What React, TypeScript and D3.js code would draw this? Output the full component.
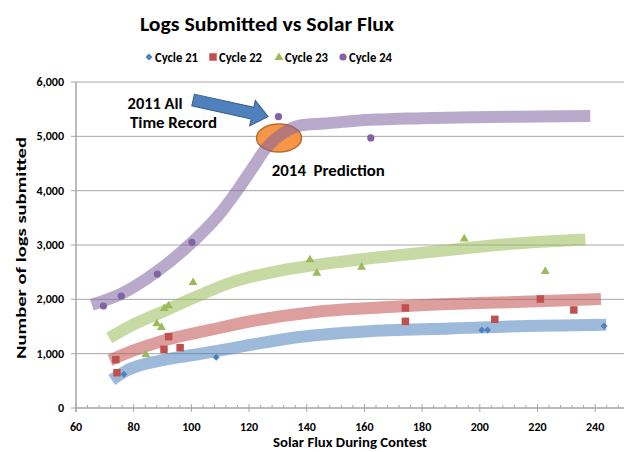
import React from 'react'
import * as d3 from 'd3'

// scatter points: [solar flux, logs]
const cycle21 = [[76.6, 620], [108.6, 933], [200.7, 1436], [202.7, 1436], [243.1, 1509]]
const cycle22 = [
  [73.8, 890], [74.2, 650], [90.5, 1080], [92.1, 1313], [96.1, 1110],
  [174.2, 1841], [174.2, 1595], [205.2, 1632], [221.0, 2006], [232.6, 1804]
]
const cycle23 = [
  [84.2, 994], [88.0, 1559], [89.6, 1491], [90.6, 1840], [92.1, 1890], [100.6, 2319],
  [141.1, 2737], [143.5, 2490], [159.0, 2601], [194.6, 3123], [222.7, 2522]
]
const cycle24 = [[69.5, 1877], [75.7, 2061], [88.2, 2466], [100.2, 3049], [130.2, 5362], [162.2, 4970]]

// hand drawn trend bands
const trend21 = [
  [72.4, 515], [77.6, 690], [89, 870], [100.7, 975], [112, 1080], [124, 1195],
  [138, 1310], [160, 1410], [190, 1465], [206, 1493], [243.8, 1530]
]
const trend22 = [
  [71.8, 880], [80, 1060], [89, 1221], [106.5, 1436], [122, 1610], [143.5, 1773],
  [166.6, 1853], [189.7, 1914], [206, 1940], [242, 2006]
]
const trend23 = [
  [71.5, 1290], [80, 1540], [90, 1770], [100, 2010], [115, 2330], [130, 2520],
  [143, 2630], [167, 2785], [190, 2910], [206, 3000], [236.6, 3100]
]
const trend24 = [
  [65.5, 1900], [76, 2110], [88, 2510], [100.5, 3060], [109, 3520], [116, 4010],
  [122, 4480], [126, 4790], [130, 4990], [137.7, 5200], [146, 5235], [162, 5305],
  [180, 5335], [198, 5352], [220, 5365], [238.3, 5375]
]

const seriesNames = ['Cycle 21', 'Cycle 22', 'Cycle 23', 'Cycle 24']
const seriesColors = ['#4f81bd', '#c0504d', '#9bbb59', '#8064a2']
const points = [cycle21, cycle22, cycle23, cycle24]
const trends = [trend21, trend22, trend23, trend24]
const shapes = ['diamond', 'square', 'triangle', 'circle']

const xTicks = [60, 80, 100, 120, 140, 160, 180, 200, 220, 240]
const yTicks = [0, 1000, 2000, 3000, 4000, 5000, 6000]

// annotations, in data units
const arrowFrom = [100.6, 5669]
const arrowTo = [126.6, 5362]
const prediction = [130.4, 4970]
const notes = [
  { text: '2011 All', at: [77.9, 5503], len: 55 },
  { text: 'Time Record', at: [78.7, 5148], len: 87 },
  { text: '2014  Prediction', at: [127.9, 4270], len: 113 }
]

const W = 631
const H = 452
const font = 'Calibri, Carlito, Lato, sans-serif'

const x = d3.scaleLinear().domain([60, 250]).range([76, 624])
const y = d3.scaleLinear().domain([0, 6000]).range([408, 82])

const line = d3
  .line<number[]>()
  .x(d => x(d[0]))
  .y(d => y(d[1]))
  .curve(d3.curveMonotoneX)

function Marker({ shape, cx, cy, color }: { shape: string; cx: number; cy: number; color: string }) {
  if (shape === 'circle') return <circle cx={cx} cy={cy} r={3.6} fill={color} />
  if (shape === 'square')
    return <path d={d3.symbol(d3.symbolSquare, 56)()!} transform={`translate(${cx},${cy})`} fill={color} />
  if (shape === 'diamond')
    return <path d={d3.symbol(d3.symbolSquare, 24)()!} transform={`translate(${cx},${cy}) rotate(45)`} fill={color} />
  return <path d={d3.symbol(d3.symbolTriangle, 34)()!} transform={`translate(${cx},${cy + 0.5})`} fill={color} />
}

function Arrow() {
  const x0 = x(arrowFrom[0])
  const y0 = y(arrowFrom[1])
  const x1 = x(arrowTo[0])
  const y1 = y(arrowTo[1])
  const len = Math.hypot(x1 - x0, y1 - y0)
  const ang = (Math.atan2(y1 - y0, x1 - x0) * 180) / Math.PI
  const sh = 6
  const hw = 13
  const hl = 16
  const pts = [
    [0, -sh], [len - hl, -sh], [len - hl, -hw], [len, 0],
    [len - hl, hw], [len - hl, sh], [0, sh]
  ]
  return (
    <path
      d={'M' + pts.map(p => p.join(',')).join('L') + 'Z'}
      transform={`translate(${x0},${y0}) rotate(${ang})`}
      fill="#4f81bd"
      stroke="#385d8a"
      strokeWidth={1}
    />
  )
}

export default function App() {
  const legendX = [149, 213, 279, 343]
  return (
    <svg
      width={W}
      height={H}
      style={{ position: 'absolute', left: 0, top: 0, background: '#fff' }}
      fontFamily={font}
    >
      <text x={267} y={31} textAnchor="middle" fontSize={21} fontWeight="bold" textLength={254} lengthAdjust="spacingAndGlyphs">
        Logs Submitted vs Solar Flux
      </text>

      {seriesNames.map((name, i) => (
        <g key={name}>
          <Marker shape={shapes[i]} cx={legendX[i]} cy={57} color={seriesColors[i]} />
          <text x={legendX[i] + 6} y={61.5} fontSize={13.5} fontWeight="bold" textLength={43} lengthAdjust="spacingAndGlyphs">
            {name}
          </text>
        </g>
      ))}

      {/* grid */}
      {yTicks.map(t => (
        <g key={t}>
          {t > 0 && <line x1={x(60)} x2={x(250)} y1={y(t)} y2={y(t)} stroke="#a6a6a6" strokeWidth={1} />}
          <line x1={x(60) - 5} x2={x(60)} y1={y(t)} y2={y(t)} stroke="#a6a6a6" />
          <text x={64} y={y(t) + 4} textAnchor="end" fontSize={12} fontWeight="bold">
            {d3.format(',')(t)}
          </text>
        </g>
      ))}

      {/* axes */}
      <line x1={x(60)} x2={x(60)} y1={y(6000)} y2={y(0) + 4} stroke="#a6a6a6" strokeWidth={1.5} />
      <line x1={x(60)} x2={x(250)} y1={y(0)} y2={y(0)} stroke="#a6a6a6" strokeWidth={1.5} />
      {d3.range(64, 251, 4).filter(v => (v - 60) % 20 !== 0).map(v => (
        <line key={v} x1={x(v)} x2={x(v)} y1={y(0) - 3} y2={y(0)} stroke="#a6a6a6" />
      ))}
      {xTicks.map(t => (
        <g key={t}>
          <line x1={x(t)} x2={x(t)} y1={y(0) - 4} y2={y(0) + 4} stroke="#a6a6a6" />
          <text x={x(t)} y={431} textAnchor="middle" fontSize={12} fontWeight="bold">
            {t}
          </text>
        </g>
      ))}

      <text x={350} y={447} textAnchor="middle" fontSize={14} fontWeight="bold" textLength={154} lengthAdjust="spacingAndGlyphs">
        Solar Flux During Contest
      </text>
      <text
        transform={`translate(26,248) rotate(-90)`}
        textAnchor="middle"
        fontSize={14}
        fontWeight="bold"
        textLength={222}
        lengthAdjust="spacingAndGlyphs"
      >
        Number of logs submitted
      </text>

      <ellipse
        cx={x(prediction[0])}
        cy={y(prediction[1])}
        rx={22.5}
        ry={14}
        fill="#f79646"
        stroke="#b66d31"
        strokeWidth={1.5}
      />

      {trends.map((t, i) => (
        <path
          key={i}
          d={line(t)!}
          fill="none"
          stroke={seriesColors[i]}
          strokeOpacity={0.55}
          strokeWidth={12}
          strokeLinecap="butt"
        />
      ))}

      {points.map((s, i) =>
        s.map((d, j) => (
          <Marker key={`${i}-${j}`} shape={shapes[i]} cx={x(d[0])} cy={y(d[1])} color={seriesColors[i]} />
        ))
      )}

      <Arrow />
      {notes.map(n => (
        <text
          key={n.text}
          x={x(n.at[0])}
          y={y(n.at[1])}
          fontSize={15}
          fontWeight="bold"
          textLength={n.len}
          lengthAdjust="spacingAndGlyphs"
          style={{ whiteSpace: 'pre' }}
        >
          {n.text}
        </text>
      ))}
    </svg>
  )
}
